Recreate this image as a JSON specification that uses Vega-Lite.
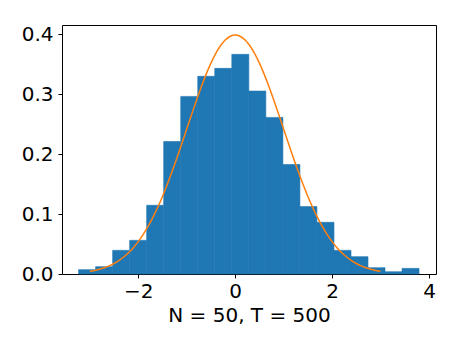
{
  "$schema": "https://vega.github.io/schema/vega-lite/v6.json",
  "width": 374,
  "height": 249,
  "autosize": {"type": "none"},
  "padding": {"left": 62, "top": 25, "right": 24, "bottom": 71},
  "background": "white",
  "config": {
    "view": {"stroke": "#000000", "strokeWidth": 1},
    "axis": {
      "grid": false,
      "domain": false,
      "tickColor": "#000000",
      "tickSize": 4,
      "tickWidth": 1,
      "labelFont": "DejaVu Sans",
      "labelFontSize": 20,
      "labelColor": "#000000",
      "titleFont": "DejaVu Sans",
      "titleFontSize": 20,
      "titleFontWeight": "normal",
      "titleColor": "#000000"
    }
  },
  "datasets": {
    "bins": [
      {"start": -3.231, "end": -2.880, "density": 0.0072},
      {"start": -2.880, "end": -2.528, "density": 0.0122},
      {"start": -2.528, "end": -2.177, "density": 0.0395},
      {"start": -2.177, "end": -1.826, "density": 0.0562},
      {"start": -1.826, "end": -1.475, "density": 0.1147},
      {"start": -1.475, "end": -1.123, "density": 0.2212},
      {"start": -1.123, "end": -0.772, "density": 0.2965},
      {"start": -0.772, "end": -0.421, "density": 0.3300},
      {"start": -0.421, "end": -0.069, "density": 0.3433},
      {"start": -0.069, "end": 0.282, "density": 0.3667},
      {"start": 0.282, "end": 0.633, "density": 0.3054},
      {"start": 0.633, "end": 0.985, "density": 0.2614},
      {"start": 0.985, "end": 1.336, "density": 0.1828},
      {"start": 1.336, "end": 1.687, "density": 0.1125},
      {"start": 1.687, "end": 2.039, "density": 0.0863},
      {"start": 2.039, "end": 2.390, "density": 0.0395},
      {"start": 2.390, "end": 2.741, "density": 0.0289},
      {"start": 2.741, "end": 3.092, "density": 0.0105},
      {"start": 3.092, "end": 3.443, "density": 0.0038},
      {"start": 3.443, "end": 3.794, "density": 0.0094}
    ],
    "curve": [
      {"x": -3.0, "y": 0.004432}, {"x": -2.9, "y": 0.005953}, {"x": -2.8, "y": 0.007915},
      {"x": -2.7, "y": 0.010421}, {"x": -2.6, "y": 0.013583}, {"x": -2.5, "y": 0.017528},
      {"x": -2.4, "y": 0.022395}, {"x": -2.3, "y": 0.028327}, {"x": -2.2, "y": 0.035475},
      {"x": -2.1, "y": 0.043984}, {"x": -2.0, "y": 0.053991}, {"x": -1.9, "y": 0.065616},
      {"x": -1.8, "y": 0.078950}, {"x": -1.7, "y": 0.094049}, {"x": -1.6, "y": 0.110921},
      {"x": -1.5, "y": 0.129518}, {"x": -1.4, "y": 0.149727}, {"x": -1.3, "y": 0.171369},
      {"x": -1.2, "y": 0.194186}, {"x": -1.1, "y": 0.217852}, {"x": -1.0, "y": 0.241971},
      {"x": -0.9, "y": 0.266085}, {"x": -0.8, "y": 0.289692}, {"x": -0.7, "y": 0.312254},
      {"x": -0.6, "y": 0.333225}, {"x": -0.5, "y": 0.352065}, {"x": -0.4, "y": 0.368270},
      {"x": -0.3, "y": 0.381388}, {"x": -0.2, "y": 0.391043}, {"x": -0.1, "y": 0.396953},
      {"x": 0.0, "y": 0.398942},
      {"x": 0.1, "y": 0.396953}, {"x": 0.2, "y": 0.391043}, {"x": 0.3, "y": 0.381388},
      {"x": 0.4, "y": 0.368270}, {"x": 0.5, "y": 0.352065}, {"x": 0.6, "y": 0.333225},
      {"x": 0.7, "y": 0.312254}, {"x": 0.8, "y": 0.289692}, {"x": 0.9, "y": 0.266085},
      {"x": 1.0, "y": 0.241971}, {"x": 1.1, "y": 0.217852}, {"x": 1.2, "y": 0.194186},
      {"x": 1.3, "y": 0.171369}, {"x": 1.4, "y": 0.149727}, {"x": 1.5, "y": 0.129518},
      {"x": 1.6, "y": 0.110921}, {"x": 1.7, "y": 0.094049}, {"x": 1.8, "y": 0.078950},
      {"x": 1.9, "y": 0.065616}, {"x": 2.0, "y": 0.053991}, {"x": 2.1, "y": 0.043984},
      {"x": 2.2, "y": 0.035475}, {"x": 2.3, "y": 0.028327}, {"x": 2.4, "y": 0.022395},
      {"x": 2.5, "y": 0.017528}, {"x": 2.6, "y": 0.013583}, {"x": 2.7, "y": 0.010421},
      {"x": 2.8, "y": 0.007915}, {"x": 2.9, "y": 0.005953}, {"x": 3.0, "y": 0.004432}
    ]
  },
  "layer": [
    {
      "data": {"name": "bins"},
      "mark": {"type": "rect", "color": "#1f77b4", "stroke": "#1f77b4", "strokeWidth": 0.6},
      "encoding": {
        "x": {
          "field": "start", "type": "quantitative",
          "scale": {"domain": [-3.573, 4.144], "nice": false, "zero": false},
          "axis": {"values": [-2, 0, 2, 4], "format": "d", "labelPadding": 3, "title": "N = 50, T = 500", "titlePadding": 4}
        },
        "x2": {"field": "end"},
        "y": {
          "field": "density", "type": "quantitative",
          "scale": {"domain": [0, 0.4157], "nice": false},
          "axis": {"values": [0, 0.1, 0.2, 0.3, 0.4], "format": ".1f", "labelPadding": 5, "title": null}
        },
        "y2": {"datum": 0}
      }
    },
    {
      "data": {"name": "curve"},
      "mark": {"type": "line", "color": "#ff7f0e", "strokeWidth": 1.5, "interpolate": "monotone"},
      "encoding": {
        "x": {"field": "x", "type": "quantitative"},
        "y": {"field": "y", "type": "quantitative"}
      }
    }
  ]
}
